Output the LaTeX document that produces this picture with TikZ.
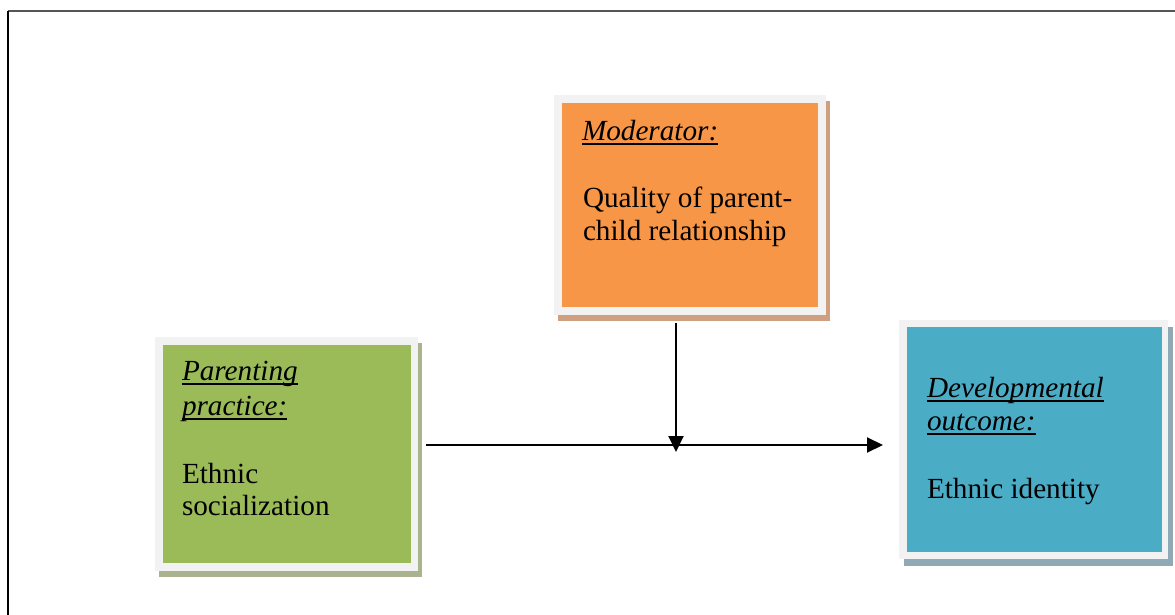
\documentclass[tikz,border=0pt]{standalone}
\usepackage{fontspec}
\setmainfont{Liberation Serif}
\usetikzlibrary{arrows.meta,backgrounds}
\definecolor{framegray}{HTML}{F2F2F2}
\definecolor{modfill}{HTML}{F79646}
\definecolor{modshadow}{HTML}{CFA07F}
\definecolor{parfill}{HTML}{9BBB59}
\definecolor{parshadow}{HTML}{A9B48F}
\definecolor{outfill}{HTML}{4BACC6}
\definecolor{outshadow}{HTML}{8FAAB4}
\definecolor{toprule}{HTML}{555555}
\tikzset{
  box/.style={rectangle, fill=framegray, inner sep=0pt, outer sep=0pt},
  txt/.style={anchor=base west, inner sep=0pt, outer sep=0pt, font=\fontsize{29.2}{34}\selectfont},
  ttl/.style={txt, font=\fontsize{29.2}{34}\selectfont\itshape},
  uline/.style={line width=1.6pt},
  arr/.style={line width=2pt, -{Triangle[length=16pt, width=15pt]}},
}
\newcommand{\underl}[1]{\draw[uline] ([yshift=-4pt]#1.base west) -- ([yshift=-4pt]#1.base east);}
\begin{document}
\begin{tikzpicture}[x=1pt, y=-1pt]
\useasboundingbox (0,0) rectangle (1175,615);
% page frame
\draw[toprule, line width=1.5pt] (8,11) -- (1175,11);
\draw[black, line width=1.5pt] (8,11) -- (8,615);

% boxes
\node[box, minimum width=272pt, minimum height=220pt] (mod) at (690,205) {};
\node[box, minimum width=263pt, minimum height=234pt] (par) at (286.5,454) {};
\node[box, minimum width=269pt, minimum height=239pt] (out) at (1033.5,439.5) {};

\begin{pgfonlayer}{background}
  \fill[modshadow] ([shift={(4pt,-6pt)}]mod.south west) rectangle ([shift={(4pt,-6pt)}]mod.north east);
  \fill[parshadow] ([shift={(4pt,-6pt)}]par.south west) rectangle ([shift={(4pt,-6pt)}]par.north east);
  \fill[outshadow] ([shift={(5pt,-7pt)}]out.south west) rectangle ([shift={(5pt,-7pt)}]out.north east);
\end{pgfonlayer}

\fill[modfill] ([shift={(8pt,-8pt)}]mod.north west) rectangle ([shift={(-8pt,8pt)}]mod.south east);
\fill[parfill] ([shift={(8pt,-8pt)}]par.north west) rectangle ([shift={(-7pt,8pt)}]par.south east);
\fill[outfill] ([shift={(8pt,-7pt)}]out.north west) rectangle ([shift={(-6pt,7pt)}]out.south east);

% texts
\node[ttl] (modt) at (582,140) {Moderator:};
\underl{modt}
\node[txt] (modl1) at (583,207) {Quality of parent-};
\node[txt] (modl2) at (583,240) {child relationship};

\node[ttl] (part1) at (182,380) {Parenting};
\underl{part1}
\node[ttl] (part2) at (182,415) {practice:};
\underl{part2}
\node[txt] (parl1) at (182,483) {Ethnic};
\node[txt] (parl2) at (182,515) {socialization};

\node[ttl] (outt1) at (927,397) {Developmental};
\underl{outt1}
\node[ttl] (outt2) at (927,430) {outcome:};
\underl{outt2}
\node[txt] (outl1) at (927,498) {Ethnic identity};

% connectors
\coordinate (hy) at (0,445);
\coordinate (meet) at (676,452);
\draw[arr] ([xshift=8pt]par.east |- hy) -- ([xshift=-16pt]out.west |- hy);
\draw[arr] ([yshift=-8pt]mod.south -| meet) -- (meet);
\end{tikzpicture}
\end{document}
